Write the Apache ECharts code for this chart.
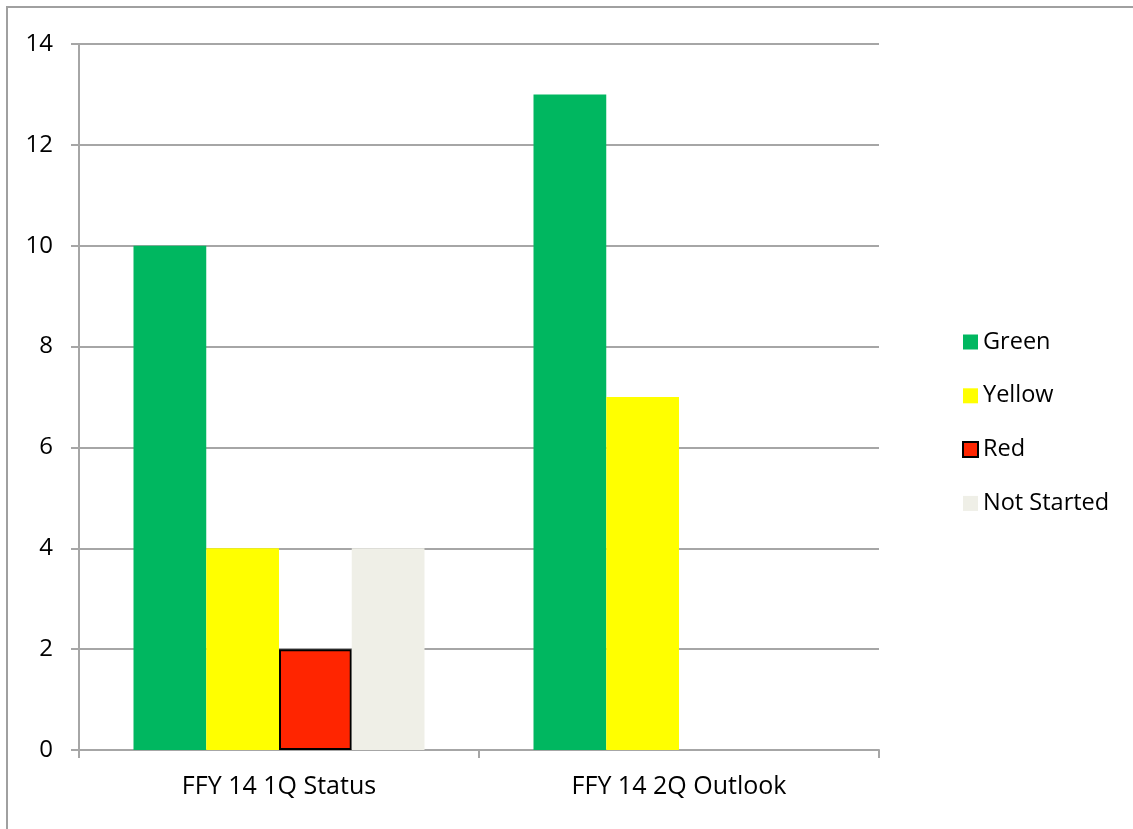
<!DOCTYPE html>
<html>
<head>
<meta charset="utf-8">
<script src="https://cdn.jsdelivr.net/npm/echarts@6/dist/echarts.min.js"></script>
<style>
  html, body { margin: 0; padding: 0; background: #fff; }
  #chart { width: 1133px; height: 829px; }
</style>
</head>
<body>
<div id="chart"></div>
<script>
const categories = ['FFY 14 1Q Status', 'FFY 14 2Q Outlook']
const greenValues = [10, 13]
const yellowValues = [4, 7]
const redValues = [2, '-']
const notStartedValues = [4, '-']

const fontFamily = '"Open Sans", sans-serif'

const chart = echarts.init(document.getElementById('chart'), null, { renderer: 'canvas' })

const option = {
  animation: false,
  backgroundColor: '#fff',
  graphic: [{
    type: 'rect',
    shape: { x: 7, y: 7, width: 1140, height: 840 },
    style: { fill: 'none', stroke: '#a0a0a0', lineWidth: 2 },
    silent: true
  }],
  grid: {
    left: 79,
    top: 44,
    width: 800,
    height: 706
  },
  legend: {
    orient: 'vertical',
    left: 957,
    top: 325,
    icon: 'rect',
    itemWidth: 15,
    itemHeight: 15,
    itemGap: 29.8,
    textStyle: { fontFamily, fontSize: 23.5, lineHeight: 22, color: '#000' },
    data: ['Green', 'Yellow', 'Red', 'Not Started']
  },
  xAxis: {
    type: 'category',
    data: categories,
    axisLine: { lineStyle: { color: '#a6a6a6', width: 2 } },
    axisTick: { show: true, length: 8, lineStyle: { color: '#a6a6a6', width: 2 } },
    axisLabel: { fontFamily, fontSize: 25, color: '#000', margin: 24 }
  },
  yAxis: {
    type: 'value',
    min: 0,
    max: 14,
    interval: 2,
    axisLine: { show: true, lineStyle: { color: '#a6a6a6', width: 2 } },
    axisTick: { show: true, length: 8, lineStyle: { color: '#a6a6a6', width: 2 } },
    splitLine: { lineStyle: { color: '#a6a6a6', width: 2 } },
    axisLabel: { fontFamily, fontSize: 24, color: '#000', margin: 26 }
  },
  series: [
    {
      name: 'Green', type: 'bar', data: greenValues,
      barGap: '0%', barCategoryGap: '27.25%',
      itemStyle: { color: '#00b760' }
    },
    {
      name: 'Yellow', type: 'bar', data: yellowValues,
      itemStyle: { color: '#ffff00' }
    },
    {
      name: 'Red', type: 'bar', data: redValues,
      itemStyle: { color: '#ff2500', borderColor: '#000', borderWidth: 2 }
    },
    {
      name: 'Not Started', type: 'bar', data: notStartedValues,
      itemStyle: { color: '#efefe7' }
    }
  ]
}

chart.setOption(option)
</script>
</body>
</html>
